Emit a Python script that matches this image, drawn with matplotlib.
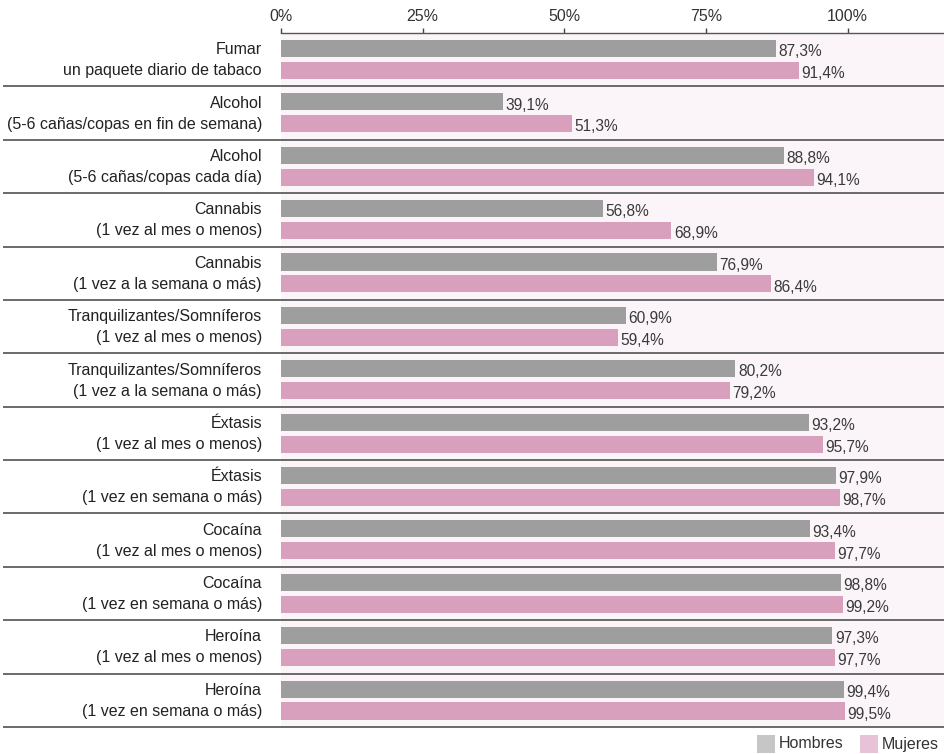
import matplotlib
matplotlib.use("Agg")
import matplotlib.pyplot as plt
import matplotlib.transforms as mtransforms
from matplotlib.patches import Rectangle

plt.rcParams['font.family'] = ['Liberation Sans', 'DejaVu Sans']

categories = [
    "Fumar\nun paquete diario de tabaco",
    "Alcohol\n(5-6 cañas/copas en fin de semana)",
    "Alcohol\n(5-6 cañas/copas cada día)",
    "Cannabis\n(1 vez al mes o menos)",
    "Cannabis\n(1 vez a la semana o más)",
    "Tranquilizantes/Somníferos\n(1 vez al mes o menos)",
    "Tranquilizantes/Somníferos\n(1 vez a la semana o más)",
    "Éxtasis\n(1 vez al mes o menos)",
    "Éxtasis\n(1 vez en semana o más)",
    "Cocaína\n(1 vez al mes o menos)",
    "Cocaína\n(1 vez en semana o más)",
    "Heroína\n(1 vez al mes o menos)",
    "Heroína\n(1 vez en semana o más)",
]
hombres = [87.3, 39.1, 88.8, 56.8, 76.9, 60.9, 80.2, 93.2, 97.9, 93.4, 98.8, 97.3, 99.4]
mujeres = [91.4, 51.3, 94.1, 68.9, 86.4, 59.4, 79.2, 95.7, 98.7, 97.7, 99.2, 97.7, 99.5]
tick_values = [0, 25, 50, 75, 100]
tick_labels = ["0%", "25%", "50%", "75%", "100%"]
legend_labels = ["Hombres", "Mujeres"]

grey = "#9d9e9d"
pink = "#d8a0bd"
grey_light = "#c5c6c5"
pink_light = "#e8c3d7"
bg = "#fbf5f9"
text_color = "#222222"
value_color = "#3a3a3a"
line_color = "#5f5f5f"

W, H = 945, 754
fig = plt.figure(figsize=(W / 100, H / 100), dpi=100)
ax = fig.add_axes([281 / W, (H - 727) / H, (W - 281) / W, 694 / H])
ax.set_facecolor(bg)

n = len(categories)
ys = list(range(n))
bar_h = 0.32
off_h, off_m = -0.21, 0.20

ax.barh([y + off_h for y in ys], hombres, height=bar_h, color=grey, zorder=2)
ax.barh([y + off_m for y in ys], mujeres, height=bar_h, color=pink, zorder=2)

def fmt(v):
    return f"{v:.1f}".replace(".", ",") + "%"

for y, v in zip(ys, hombres):
    ax.text(v + 0.45, y + off_h + 0.06, fmt(v), va="center", ha="left",
            fontsize=11.2, color=value_color, zorder=3)
for y, v in zip(ys, mujeres):
    ax.text(v + 0.45, y + off_m + 0.06, fmt(v), va="center", ha="left",
            fontsize=11.2, color=value_color, zorder=3)

ax.set_xlim(0, 117.2)
ax.set_ylim(n - 0.5, -0.5)

# category labels, right-aligned left of the bars
lab_tr = mtransforms.blended_transform_factory(fig.transFigure, ax.transData)
for y, lab in zip(ys, categories):
    ax.text(262 / W, y + 0.01, lab, transform=lab_tr, ha="right", va="center",
            fontsize=11.5, color=text_color, linespacing=1.5)

# group separators spanning the full width
for k in range(n):
    ax.plot([3 / W, 1.0], [k + 0.5, k + 0.5], transform=lab_tr, color=line_color,
            lw=1.3, clip_on=False, zorder=4, solid_capstyle="butt")

ax.set_yticks([])
ax.xaxis.tick_top()
ax.set_xticks(tick_values)
ax.set_xticklabels(tick_labels, fontsize=11.5, color="#333333")
ax.tick_params(axis="x", direction="out", length=3.5, width=1, color="#444444", pad=3)
for s in ["bottom", "left", "right"]:
    ax.spines[s].set_visible(False)
ax.spines["top"].set_color("#555555")
ax.spines["top"].set_linewidth(1.0)

# legend
for x0, col, lab in [(757, grey_light, legend_labels[0]), (860, pink_light, legend_labels[1])]:
    fig.patches.append(Rectangle((x0 / W, (H - 753) / H), 18 / W, 18 / H,
                                 transform=fig.transFigure, color=col, lw=0))
    fig.text((x0 + 22) / W, (H - 744) / H, lab, ha="left", va="center",
             fontsize=11.5, color="#333333")

fig.savefig("out.png", dpi=100)
